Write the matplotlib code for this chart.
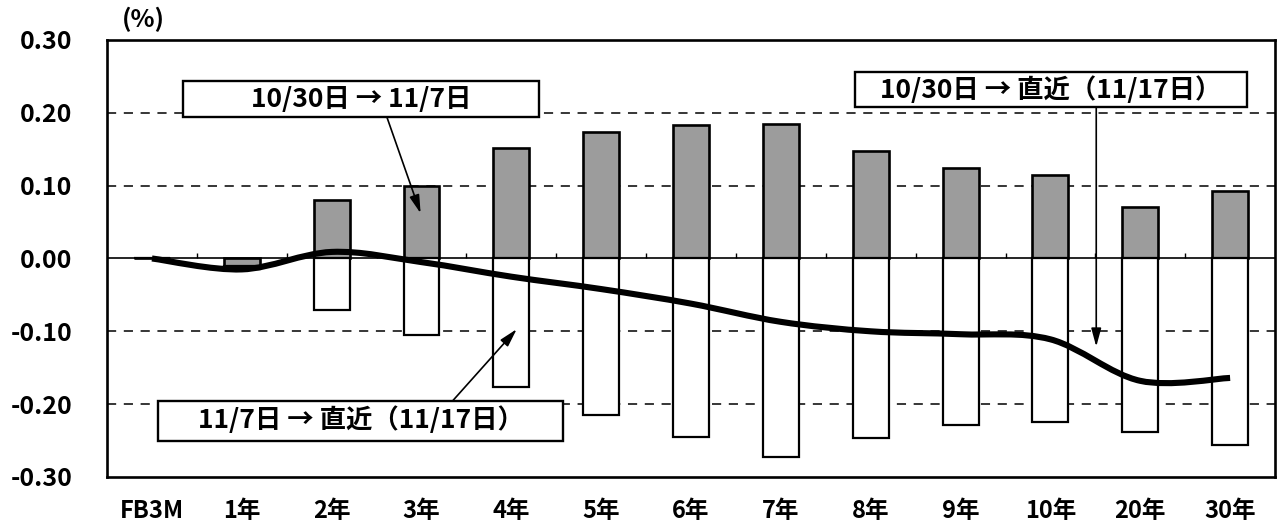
import numpy as np
import matplotlib.pyplot as plt
from matplotlib.path import Path
from matplotlib.patches import PathPatch, Rectangle

plt.rcParams['font.family'] = ['Noto Sans CJK JP', 'DejaVu Sans']

categories = ['FB3M', '1年', '2年', '3年', '4年', '5年', '6年',
              '7年', '8年', '9年', '10年', '20年', '30年']
# 10/30 -> 11/7
chg_first = [0.000, -0.010, 0.080, 0.100, 0.152, 0.173, 0.183,
             0.185, 0.147, 0.124, 0.114, 0.070, 0.092]
# 11/7 -> 11/17
chg_second = [0.000, -0.005, -0.071, -0.105, -0.177, -0.215, -0.245,
              -0.272, -0.247, -0.228, -0.225, -0.238, -0.256]
# 10/30 -> 11/17
chg_total = [a + b for a, b in zip(chg_first, chg_second)]

y_ticks = [0.30, 0.20, 0.10, 0.00, -0.10, -0.20, -0.30]
grid_levels = [0.20, 0.10, -0.10, -0.20]


def smooth_path(xs, ys):
    # bezier curve through every point, excel style smoothing
    n = len(xs)
    verts = [(xs[0], ys[0])]
    codes = [Path.MOVETO]
    for i in range(n - 1):
        xp, yp = (xs[i - 1], ys[i - 1]) if i > 0 else (xs[i], ys[i])
        xn, yn = (xs[i + 2], ys[i + 2]) if i + 2 < n else (xs[i + 1], ys[i + 1])
        c1 = (xs[i] + (xs[i + 1] - xp) / 6, ys[i] + (ys[i + 1] - yp) / 6)
        c2 = (xs[i + 1] - (xn - xs[i]) / 6, ys[i + 1] - (yn - ys[i]) / 6)
        verts += [c1, c2, (xs[i + 1], ys[i + 1])]
        codes += [Path.CURVE4] * 3
    return Path(verts, codes)


fig = plt.figure(figsize=(12.79, 5.26), dpi=100)
ax = fig.add_axes([0.0837, 0.0932, 0.9132, 0.8308])

x = np.arange(len(categories))
first = np.array(chg_first)
second = np.array(chg_second)

for lvl in grid_levels:
    ax.axhline(lvl, color='black', lw=1.1, ls=(0, (6, 5)), zorder=1)

ax.bar(x, first, width=0.4, color='#9c9c9c', edgecolor='black', lw=1.9, zorder=2)
ax.bar(x, second, bottom=np.minimum(first, 0), width=0.4, color='white',
       edgecolor='black', lw=1.6, zorder=2)

ax.axhline(0, color='black', lw=1.2, zorder=3)
ax.vlines(np.arange(0.5, len(categories) - 1, 1), 0, 0.008, color='black', lw=1.0, zorder=3)

ax.add_patch(PathPatch(smooth_path(x, chg_total), fill=False, lw=4.4,
                       edgecolor='black', capstyle='butt', zorder=4))

# callout boxes with arrows
callouts = [
    ('10/30日 → 11/7日', (0.345, 0.194, 3.96, 0.049), (2.615, 0.194), (2.99, 0.062)),
    ('11/7日 → 直近（11/17日）', (0.067, -0.250, 4.51, 0.055), (3.35, -0.195), (4.06, -0.097)),
    ('10/30日 → 直近（11/17日）', (7.824, 0.2075, 4.36, 0.048), (10.51, 0.2075), (10.51, -0.121)),
]
for label, (bx, by, bw, bh), start, tip in callouts:
    ax.add_patch(Rectangle((bx, by), bw, bh, facecolor='white', edgecolor='black',
                           lw=1.7, zorder=5))
    ax.text(bx + bw / 2, by + bh / 2, label, ha='center', va='center',
            fontsize=19, fontweight='bold', zorder=6)
    ax.annotate('', xy=tip, xytext=start, zorder=6,
                arrowprops=dict(arrowstyle='-|>,head_length=1.1,head_width=0.3',
                                color='black', lw=1.2, shrinkA=0, shrinkB=0))

ax.set_xlim(-0.5, len(categories) - 0.5)
ax.set_ylim(-0.30, 0.30)
ax.set_yticks(y_ticks, labels=[f'{v:.2f}' for v in y_ticks])
ax.set_xticks(x, labels=categories)
ax.tick_params(axis='y', length=0, pad=25, labelsize=18)
ax.tick_params(axis='x', length=0, pad=16, labelsize=17)
for lab in ax.get_xticklabels() + ax.get_yticklabels():
    lab.set_fontweight('bold')
for sp in ax.spines.values():
    sp.set_linewidth(1.9)
    sp.set_zorder(7)

ax.text(0.031, 1.048, '(%)', transform=ax.transAxes, ha='center', va='center',
        fontsize=18, fontweight='bold')

fig.savefig('out.png', dpi=100)
